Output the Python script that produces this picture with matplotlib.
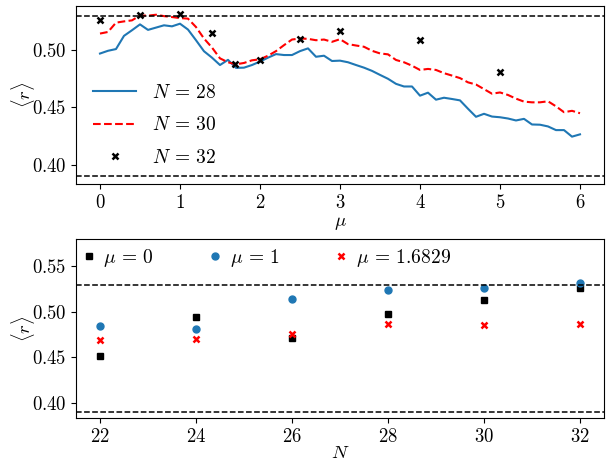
import numpy as np
import matplotlib
matplotlib.use("Agg")
import matplotlib.pyplot as plt

plt.rcParams['font.family'] = 'serif'
plt.rcParams['font.serif'] = ['cmr10']
plt.rcParams['mathtext.fontset'] = 'cm'
plt.rcParams['axes.formatter.use_mathtext'] = True
plt.rcParams['font.size'] = 13.5

# top panel: <r> vs mu
mu = np.round(np.arange(0, 6.01, 0.1), 1)
r_N28 = [0.497, 0.4994, 0.5009, 0.5124, 0.5173, 0.5224, 0.5176, 0.5196, 0.5216, 0.5207,
         0.523, 0.5179, 0.5086, 0.499, 0.4934, 0.487, 0.4915, 0.4845, 0.4847, 0.487,
         0.490, 0.4934, 0.4965, 0.4957, 0.4957, 0.4991, 0.5015, 0.4942, 0.4951, 0.4905,
         0.4908, 0.4894, 0.487, 0.4847, 0.4819, 0.4784, 0.475, 0.4706, 0.4683, 0.4683,
         0.4603, 0.4629, 0.4568, 0.4585, 0.4574, 0.4562, 0.4489, 0.4419, 0.4445, 0.4421,
         0.4415, 0.4404, 0.4387, 0.4401, 0.4352, 0.435, 0.4335, 0.4303, 0.4303, 0.4246,
         0.4266]
r_N30 = [0.5144, 0.5158, 0.5239, 0.525, 0.5259, 0.5302, 0.530, 0.5308, 0.5296, 0.5288,
         0.5279, 0.5274, 0.5201, 0.5101, 0.5022, 0.4928, 0.4894, 0.4876, 0.4888, 0.4911,
         0.492, 0.4951, 0.4991, 0.5043, 0.5092, 0.5101, 0.5098, 0.5086, 0.5092, 0.5072,
         0.5095, 0.5052, 0.504, 0.5029, 0.4994, 0.4971, 0.4963, 0.4914, 0.4894, 0.4864,
         0.4827, 0.4836, 0.4827, 0.4799, 0.4778, 0.4756, 0.4719, 0.470, 0.466, 0.462,
         0.4631, 0.4609, 0.4577, 0.4551, 0.4545, 0.4545, 0.4554, 0.451, 0.4459, 0.4471,
         0.445]
mu_N32 = [0, 0.5, 1, 1.4, 1.6829, 2, 2.5, 3, 4, 5]
r_N32 = [0.5265, 0.531, 0.5316, 0.5149, 0.4877, 0.4911, 0.5101, 0.517, 0.5084, 0.4813]

# bottom panel: <r> vs N
N = [22, 24, 26, 28, 30, 32]
r_mu0 = [0.4515, 0.4941, 0.4711, 0.4974, 0.513, 0.526]
r_mu1 = [0.4838, 0.4811, 0.5144, 0.5238, 0.5267, 0.5316]
r_mu168 = [0.4686, 0.4704, 0.4756, 0.486, 0.4856, 0.4867]

r_goe = 0.53
r_poisson = 0.39

fig, (ax1, ax2) = plt.subplots(2, 1, figsize=(6.06, 4.63), dpi=100)
fig.subplots_adjust(left=0.1254, right=0.9967, top=0.9877, bottom=0.0972, hspace=0.306)

ax1.plot(mu, r_N28, color='#1f77b4', lw=1.5, label='$N$ = 28')
ax1.plot(mu, r_N30, color='red', ls='--', lw=1.5, label='$N$ = 30')
ax1.plot(mu_N32, r_N32, 'x', color='k', ms=5, mew=1.8, label='$N$ = 32')
ax1.axhline(r_goe, color='k', ls='--', lw=1.1)
ax1.axhline(r_poisson, color='k', ls='--', lw=1.1)
ax1.set_xlabel(r'$\mu$', labelpad=1)
ax1.set_ylabel(r'$\langle r\rangle$', labelpad=-4)
ax1.set_yticks([0.40, 0.45, 0.50])
ax1.legend(loc='lower left', frameon=False, fontsize=14, handlelength=2.2,
           labelspacing=0.75)

ax2.plot(N, r_mu0, 's', color='k', ms=5, label=r'$\mu$ = 0')
ax2.plot(N, r_mu1, 'o', color='#1f77b4', ms=5, label=r'$\mu$ = 1')
ax2.plot(N, r_mu168, 'x', color='red', ms=4.5, mew=1.8, label=r'$\mu$ = 1.6829')
ax2.axhline(r_goe, color='k', ls='--', lw=1.1)
ax2.axhline(r_poisson, color='k', ls='--', lw=1.1)
ax2.set_ylim(top=0.58)
ax2.set_xticks(N)
ax2.set_yticks([0.40, 0.45, 0.50, 0.55])
ax2.set_xlabel('$N$', labelpad=-1)
ax2.set_ylabel(r'$\langle r\rangle$', labelpad=-4)
ax2.legend(loc='upper left', ncol=3, frameon=False, fontsize=14, handlelength=0.5,
           handletextpad=0.5, columnspacing=2.9, borderaxespad=0)

fig.savefig('out.png', dpi=100)
